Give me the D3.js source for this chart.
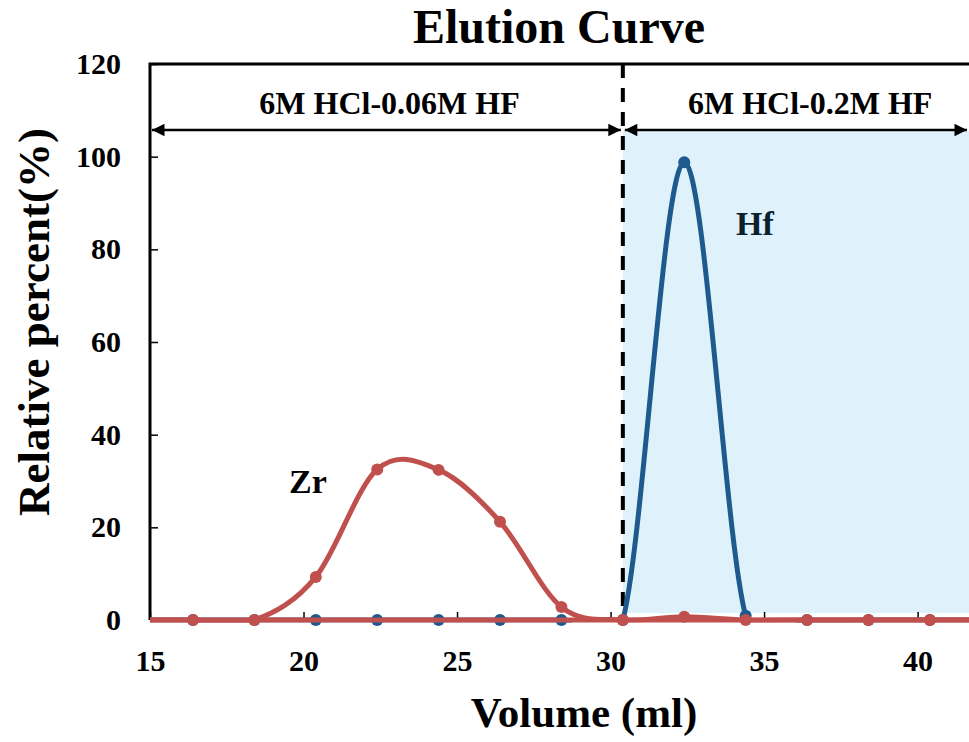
<!DOCTYPE html>
<html>
<head>
<meta charset="utf-8">
<script src="https://cdn.jsdelivr.net/npm/d3@7"></script>
<style>
  body { margin: 0; background: #fff; }
  svg { display: block; font-family: "Liberation Serif", "Times New Roman", serif; font-weight: bold; }
</style>
</head>
<body>
<svg class="chart" width="969" height="742"></svg>
<script>
(function() {
  const volumes = [16.4, 18.4, 20.4, 22.4, 24.4, 26.4, 28.4, 30.4, 32.4, 34.4, 36.4, 38.4, 40.4];
  const zrValues = [0, 0, 9.3, 32.5, 32.4, 21.2, 2.8, 0, 0.7, 0, 0, 0, 0];
  const hfValues = [0, 0, 0, 0, 0, 0, 0, 0, 98.8, 0.9, 0, 0, 0];
  const xTicks = [15, 20, 25, 30, 35, 40];
  const yTicks = [0, 20, 40, 60, 80, 100, 120];
  const switchVolume = 30.4;
  const eluents = [
    { label: "6M HCl-0.06M HF", from: 15, to: 30.4, labelAt: 22.8 },
    { label: "6M HCl-0.2M HF", from: 30.4, to: 41.8, labelAt: 36.5 }
  ];

  const svg = d3.select(".chart");
  const x = d3.scaleLinear().domain([15, 42]).range([150, 979]);
  const y = d3.scaleLinear().domain([0, 120]).range([620, 64]);

  const defs = svg.append("defs");
  defs.append("marker")
    .attr("id", "arrow")
    .attr("viewBox", "0 0 10 10")
    .attr("refX", 10).attr("refY", 5)
    .attr("markerWidth", 6).attr("markerHeight", 5)
    .attr("markerUnits", "strokeWidth")
    .attr("orient", "auto-start-reverse")
    .append("path").attr("d", "M0,0 L10,5 L0,10 z").attr("fill", "#000");
  // keep the smoothed lines from dipping under the zero line
  defs.append("clipPath").attr("id", "plotClip")
    .append("rect")
    .attr("x", x(15)).attr("y", y(120))
    .attr("width", 969 - x(15)).attr("height", y(0) - y(120) + 2.5);

  // shaded region for the second eluent
  svg.append("rect")
    .attr("x", x(switchVolume))
    .attr("y", y(105.5))
    .attr("width", x(42) - x(switchVolume))
    .attr("height", y(1.5) - y(105.5))
    .attr("fill", "#dff2fc");

  // ticks (pointing inwards)
  svg.append("g")
    .attr("transform", "translate(0," + y(0) + ")")
    .call(d3.axisBottom(x).tickValues(xTicks).tickSize(-8).tickFormat(d3.format("d")))
    .call(function(g) {
      g.select(".domain").remove();
      g.selectAll(".tick line").attr("stroke", "#000").attr("stroke-width", 1.5);
      g.selectAll(".tick text").attr("font-size", 30).attr("font-family", "Liberation Serif").attr("font-weight", "bold").attr("fill", "#000")
        .attr("y", 51).attr("dy", null);
    });

  svg.append("g")
    .attr("transform", "translate(" + x(15) + ",0)")
    .call(d3.axisLeft(y).tickValues(yTicks).tickSize(-8).tickPadding(29))
    .call(function(g) {
      g.select(".domain").remove();
      g.selectAll(".tick line").attr("stroke", "#000").attr("stroke-width", 1.5);
      g.selectAll(".tick text").attr("font-size", 30).attr("font-family", "Liberation Serif").attr("font-weight", "bold").attr("fill", "#000");
    });

  // frame: left + top
  svg.append("path")
    .attr("d", "M" + x(15) + "," + y(0) + " V" + y(120) + " H" + 969)
    .attr("fill", "none").attr("stroke", "#000").attr("stroke-width", 3);

  // dashed switch line
  svg.append("line")
    .attr("x1", x(switchVolume)).attr("x2", x(switchVolume))
    .attr("y1", y(120)).attr("y2", y(0))
    .attr("stroke", "#000").attr("stroke-width", 4)
    .attr("stroke-dasharray", "14,10");

  // eluent arrows and labels
  const el = svg.selectAll(".eluent").data(eluents).enter().append("g");
  el.append("line")
    .attr("x1", function(d) { return x(d.from) + 2; })
    .attr("x2", function(d) { return Math.min(x(d.to), 969) - 2; })
    .attr("y1", 130).attr("y2", 130)
    .attr("stroke", "#000").attr("stroke-width", 2.5)
    .attr("marker-start", "url(#arrow)")
    .attr("marker-end", "url(#arrow)");
  el.append("text")
    .attr("x", function(d) { return x(d.labelAt); })
    .attr("y", 114)
    .attr("text-anchor", "middle")
    .attr("font-size", 32)
    .text(function(d) { return d.label; });

  const line = d3.line()
    .x(function(d) { return x(d[0]); })
    .y(function(d) { return y(d[1]); })
    .curve(d3.curveCatmullRom.alpha(0));

  function series(values, color, baseline) {
    const pts = volumes.map(function(v, i) { return [v, values[i]]; });
    const g = svg.append("g");
    g.append("path")
      .datum([[15, 0]].concat(pts).concat([[42, 0]]))
      .attr("d", line)
      .attr("clip-path", "url(#plotClip)")
      .attr("fill", "none")
      .attr("stroke", color)
      .attr("stroke-width", 5);
    const dots = g.selectAll("circle").data(pts).enter().append("circle")
      .attr("cx", function(d) { return x(d[0]); })
      .attr("cy", function(d) { return y(d[1]); })
      .attr("r", 6)
      .attr("fill", color);
    return g;
  }
  series(hfValues, "#1f5a8f");

  // red zero line lies over the Hf markers
  svg.append("line")
    .attr("x1", x(15)).attr("x2", 969)
    .attr("y1", y(0)).attr("y2", y(0))
    .attr("stroke", "#c0504d").attr("stroke-width", 5);

  series(zrValues, "#c0504d");

  svg.append("text").attr("x", 308).attr("y", 493).attr("text-anchor", "middle")
    .attr("font-size", 34).text("Zr");
  svg.append("text").attr("x", 755).attr("y", 235).attr("text-anchor", "middle")
    .attr("font-size", 34).attr("fill", "#0b1f2c").text("Hf");

  svg.append("text").attr("x", 559).attr("y", 43).attr("text-anchor", "middle")
    .attr("font-size", 48).text("Elution Curve");
  svg.append("text").attr("x", 584).attr("y", 727).attr("text-anchor", "middle")
    .attr("font-size", 43).text("Volume (ml)");
  svg.append("text")
    .attr("transform", "translate(49,322) rotate(-90)")
    .attr("text-anchor", "middle")
    .attr("font-size", 45).text("Relative percent(%)");
})();
</script>
</body>
</html>
